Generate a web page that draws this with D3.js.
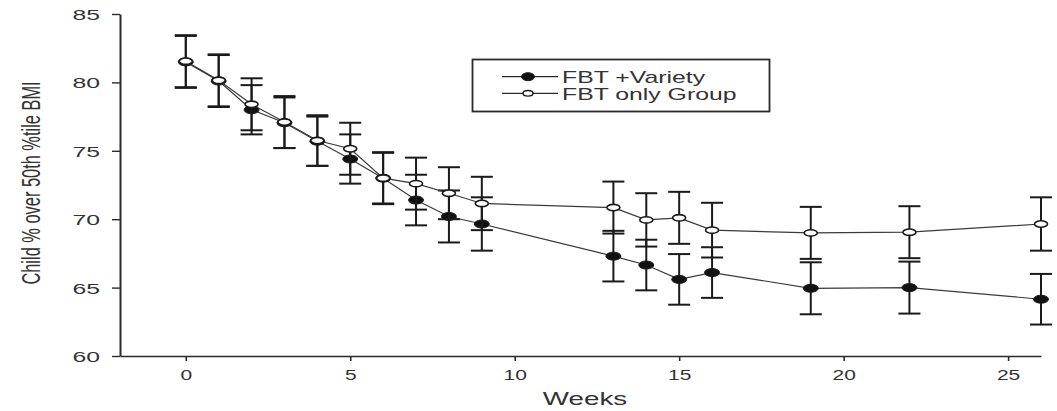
<!DOCTYPE html>
<html>
<head>
<meta charset="utf-8">
<script src="https://cdn.jsdelivr.net/npm/d3@7"></script>
<style>
  html, body { margin: 0; padding: 0; background: #fff; }
  svg { display: block; font-family: Arial, "Liberation Sans", sans-serif; }
</style>
</head>
<body>
<svg id="chart" width="1057" height="411"></svg>
<script>
// Weeks of treatment at which BMI was measured
const weeks = [0, 1, 2, 3, 4, 5, 6, 7, 8, 9, 13, 14, 15, 16, 19, 22, 26];

// FBT + Variety group: mean and error
const varietyMean = [81.5, 80.1, 78.0, 77.05, 75.7, 74.4, 73.0, 71.4, 70.2, 69.65, 67.3, 66.65, 65.6, 66.1, 64.95, 65.0, 64.15];
const varietyErr  = [1.9, 1.9, 1.8, 1.85, 1.8, 1.8, 1.9, 1.85, 1.9, 1.95, 1.85, 1.85, 1.85, 1.85, 1.9, 1.9, 1.85];

// FBT only group: mean and error
const onlyMean = [81.55, 80.15, 78.4, 77.1, 75.75, 75.15, 73.0, 72.6, 71.9, 71.15, 70.85, 69.95, 70.1, 69.2, 69.0, 69.05, 69.65];
const onlyErr  = [1.9, 1.9, 1.9, 1.9, 1.85, 1.9, 1.85, 1.9, 1.9, 1.95, 1.9, 1.95, 1.9, 2.0, 1.9, 1.9, 1.95];

const xTicks = [0, 5, 10, 15, 20, 25];
const yTicks = [60, 65, 70, 75, 80, 85];
const seriesNames = ["FBT +Variety", "FBT only Group"];

const svg = d3.select("#chart");
const ink = "#2a2a2a";
const textInk = "#333";
const stretch = 1.55; // horizontal widening of the type

const x = d3.scaleLinear().domain([-2, 26]).range([120, 1041]);
const y = d3.scaleLinear().domain([60, 85]).range([356, 14]);

// Axes
const xAxis = svg.append("g")
  .attr("transform", `translate(0,${y(60)})`)
  .call(d3.axisBottom(x).tickValues(xTicks).tickSize(5).tickSizeOuter(0));
xAxis.select(".domain").attr("stroke", ink).attr("stroke-width", 1.6);
xAxis.selectAll(".tick line").attr("stroke", ink).attr("stroke-width", 1.6);
xAxis.selectAll(".tick text")
  .attr("y", null).attr("dy", null)
  .attr("fill", textInk)
  .attr("font-size", 14)
  .attr("text-anchor", "middle")
  .attr("transform", `translate(0,23.5) scale(1.5,1)`);

const yAxis = svg.append("g")
  .attr("transform", `translate(${x(-2)},0)`)
  .call(d3.axisLeft(y).tickValues(yTicks).tickSize(8).tickSizeOuter(0));
yAxis.select(".domain").attr("stroke", ink).attr("stroke-width", 2);
yAxis.selectAll(".tick line").attr("stroke", ink).attr("stroke-width", 1.4);
yAxis.selectAll(".tick text")
  .attr("x", null).attr("dy", "0.36em")
  .attr("fill", textInk)
  .attr("font-size", 15)
  .attr("text-anchor", "end")
  .attr("transform", `translate(-20,0) scale(1.65,1)`);

// Axis titles
svg.append("text")
  .attr("transform", `translate(585,405) scale(1.5,1)`)
  .attr("text-anchor", "middle")
  .attr("font-size", 18.5)
  .attr("fill", textInk)
  .text("Weeks");

svg.append("text")
  .attr("transform", `translate(40,183) scale(1.6,1) rotate(-90)`)
  .attr("text-anchor", "middle")
  .attr("font-size", 16.4)
  .attr("fill", textInk)
  .text("Child % over 50th %tile BMI");

// Series data
const varietyData = weeks.map((w, i) => ({ w, m: varietyMean[i], e: varietyErr[i] }));
const onlyData = weeks.map((w, i) => ({ w, m: onlyMean[i], e: onlyErr[i] }));

const line = d3.line().x(d => x(d.w)).y(d => y(d.m));
const capHalf = 11;

function drawSeries(data, filled) {
  const g = svg.append("g");
  g.append("path")
    .datum(data)
    .attr("fill", "none")
    .attr("stroke", "#3a3a3a")
    .attr("stroke-width", 1.2)
    .attr("d", line);

  const bars = g.selectAll(".err").data(data).join("g").attr("class", "err")
    .attr("stroke", "#1a1a1a").attr("stroke-width", 2);
  bars.append("line")
    .attr("x1", d => x(d.w)).attr("x2", d => x(d.w))
    .attr("y1", d => y(d.m + d.e)).attr("y2", d => y(d.m - d.e));
  bars.append("line")
    .attr("x1", d => x(d.w) - capHalf).attr("x2", d => x(d.w) + capHalf)
    .attr("y1", d => y(d.m + d.e)).attr("y2", d => y(d.m + d.e));
  bars.append("line")
    .attr("x1", d => x(d.w) - capHalf).attr("x2", d => x(d.w) + capHalf)
    .attr("y1", d => y(d.m - d.e)).attr("y2", d => y(d.m - d.e));

  g.selectAll("ellipse").data(data).join("ellipse")
    .attr("cx", d => x(d.w)).attr("cy", d => y(d.m))
    .attr("rx", filled ? 7.5 : 6.5)
    .attr("ry", filled ? 4 : 3.2)
    .attr("fill", filled ? "#111" : "#fff")
    .attr("stroke", "#1a1a1a")
    .attr("stroke-width", filled ? 1 : 1.6);
}

drawSeries(varietyData, true);
drawSeries(onlyData, false);

// Legend
const legend = svg.append("g");
legend.append("rect")
  .attr("x", 472.5).attr("y", 59.5).attr("width", 297).attr("height", 52)
  .attr("fill", "#fff").attr("stroke", ink).attr("stroke-width", 1.8);

const rows = [76.7, 93.3];
seriesNames.forEach((name, i) => {
  const ly = rows[i];
  const filled = i === 0;
  legend.append("line")
    .attr("x1", 502).attr("x2", 558).attr("y1", ly).attr("y2", ly)
    .attr("stroke", "#2a2a2a").attr("stroke-width", 1.3);
  legend.append("ellipse")
    .attr("cx", 528).attr("cy", ly)
    .attr("rx", filled ? 6.5 : 5).attr("ry", filled ? 4 : 2.8)
    .attr("fill", filled ? "#111" : "#fff")
    .attr("stroke", "#1a1a1a").attr("stroke-width", filled ? 1 : 1.4);
  legend.append("text")
    .attr("transform", `translate(562,${ly + 6.3}) scale(${stretch},1)`)
    .attr("font-size", 16)
    .attr("fill", textInk)
    .text(name);
});
</script>
</body>
</html>
